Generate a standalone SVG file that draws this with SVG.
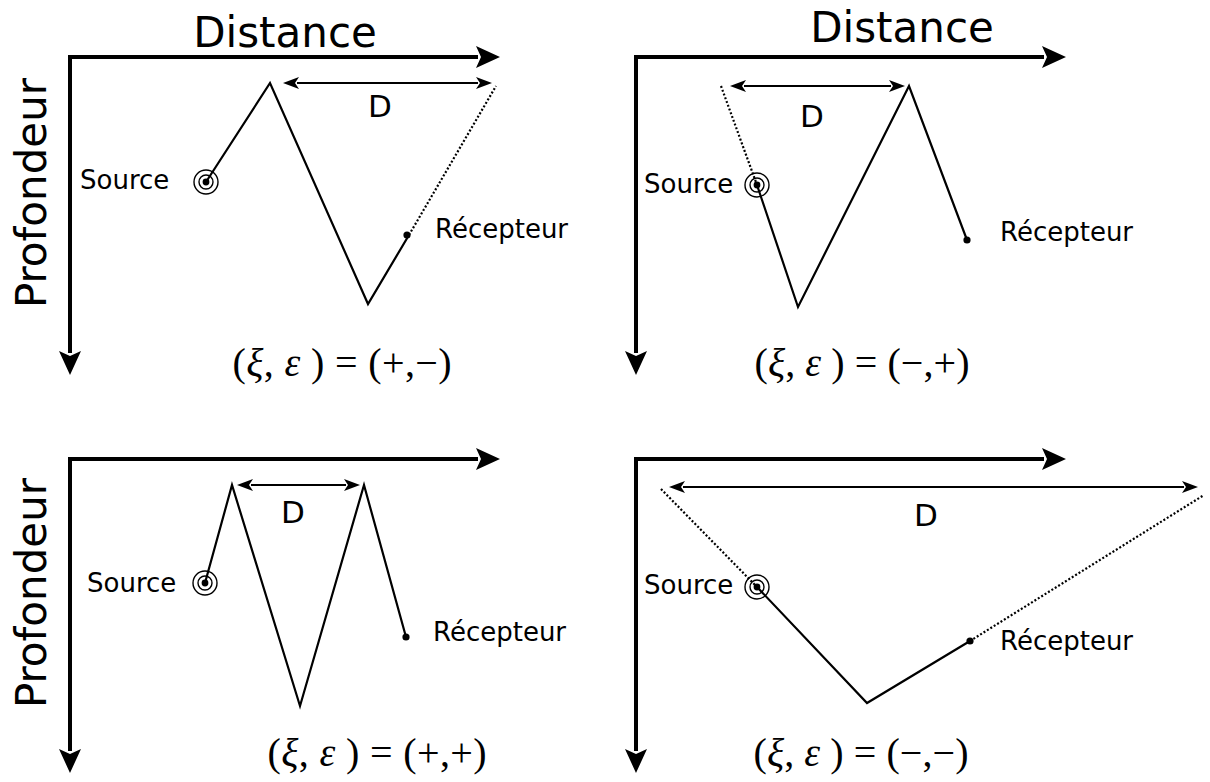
<svg xmlns="http://www.w3.org/2000/svg" width="1210" height="782" viewBox="0 0 1210 782">
<style>
  .axis{fill:none;stroke:#000;stroke-width:4;marker-start:url(#axh);marker-end:url(#axh)}
  .ray{fill:none;stroke:#000;stroke-width:2.2;stroke-linejoin:miter}
  .dot{fill:none;stroke:#000;stroke-width:2.2;stroke-dasharray:2,2}
  .dim{fill:none;stroke:#000;stroke-width:2.2;marker-start:url(#dh);marker-end:url(#dh)}
  .big{font-family:"DejaVu Sans",sans-serif;font-size:42px;fill:#000}
  .lbl{font-family:"DejaVu Sans",sans-serif;font-size:26px;fill:#000}
  .d{font-family:"DejaVu Sans",sans-serif;font-size:31px;fill:#000;text-anchor:middle}
  .eq{font-family:"Liberation Serif",serif;font-size:40px;fill:#000;text-anchor:middle}
  .ring{fill:none;stroke:#000;stroke-width:1.4}
</style>
<defs>
  <marker id="axh" markerUnits="userSpaceOnUse" markerWidth="30" markerHeight="24" refX="2" refY="11" orient="auto-start-reverse" overflow="visible">
    <path d="M0,0 L24,11 L0,22 L5,11 Z" fill="#000"/>
  </marker>
  <marker id="dh" markerUnits="userSpaceOnUse" markerWidth="18" markerHeight="14" refX="2" refY="6" orient="auto-start-reverse" overflow="visible">
    <path d="M0,0 L16,6 L0,12 L4,6 Z" fill="#000"/>
  </marker>
  <g id="src">
    <circle r="12" class="ring"/>
    <circle r="7" class="ring"/>
    <circle r="3.4" fill="#000"/>
  </g>
</defs>
<rect width="1210" height="782" fill="#fff"/>

<!-- Panel top-left -->
<g id="panel-tl">
  <g id="tl-connectors">
    <path class="axis" d="M70,353 L70,57 L478,57"/>
    <path class="dim" d="M297,83 L478,83"/>
    <polyline class="ray" points="206,182 270,83 368,304 409,235"/>
    <line class="dot" x1="409" y1="235" x2="496" y2="86"/>
  </g>
  <g id="tl-source"><use href="#src" x="206" y="182"/><text class="lbl" x="80" y="189">Source</text></g>
  <g id="tl-receiver"><circle cx="407" cy="235" r="3.6"/><text class="lbl" x="435" y="238">Récepteur</text></g>
  <text class="big" x="285" y="47" text-anchor="middle">Distance</text>
  <text class="big" transform="translate(46,193) rotate(-90)" text-anchor="middle">Profondeur</text>
  <text class="d" x="380" y="117">D</text>
  <text class="eq" x="342" y="376" textLength="219" lengthAdjust="spacing">(<tspan font-style="italic">ξ</tspan>, <tspan font-style="italic">ε</tspan> ) = (+,−)</text>
</g>

<!-- Panel top-right -->
<g id="panel-tr">
  <g id="tr-connectors">
    <path class="axis" d="M636,353 L636,57 L1044,57"/>
    <path class="dim" d="M744,86 L891,86"/>
    <line class="dot" x1="721" y1="86" x2="757" y2="185"/>
    <polyline class="ray" points="757,185 798,307 909,86 967,240"/>
  </g>
  <g id="tr-source"><use href="#src" x="757" y="185"/><text class="lbl" x="644" y="193">Source</text></g>
  <g id="tr-receiver"><circle cx="967" cy="240" r="3.6"/><text class="lbl" x="1000" y="241">Récepteur</text></g>
  <text class="big" x="902" y="42" text-anchor="middle">Distance</text>
  <text class="d" x="812" y="127">D</text>
  <text class="eq" x="862" y="376" textLength="215" lengthAdjust="spacing">(<tspan font-style="italic">ξ</tspan>, <tspan font-style="italic">ε</tspan> ) = (−,+)</text>
</g>

<!-- Panel bottom-left -->
<g id="panel-bl">
  <g id="bl-connectors">
    <path class="axis" d="M70,751 L70,459 L478,459"/>
    <path class="dim" d="M251,485 L346,485"/>
    <polyline class="ray" points="205,583 232,485 300,706 364,485 406,637"/>
  </g>
  <g id="bl-source"><use href="#src" x="205" y="583"/><text class="lbl" x="87" y="592">Source</text></g>
  <g id="bl-receiver"><circle cx="406" cy="637" r="3.6"/><text class="lbl" x="433" y="641">Récepteur</text></g>
  <text class="big" transform="translate(46,593) rotate(-90)" text-anchor="middle">Profondeur</text>
  <text class="d" x="293" y="523">D</text>
  <text class="eq" x="377" y="766" textLength="219" lengthAdjust="spacing">(<tspan font-style="italic">ξ</tspan>, <tspan font-style="italic">ε</tspan> ) = (+,+)</text>
</g>

<!-- Panel bottom-right -->
<g id="panel-br">
  <g id="br-connectors">
    <path class="axis" d="M636,751 L636,459 L1044,459"/>
    <path class="dim" d="M683,487 L1184,487"/>
    <line class="dot" x1="661" y1="489" x2="757" y2="587"/>
    <polyline class="ray" points="757,587 867,703 970,641"/>
    <line class="dot" x1="970" y1="641" x2="1204" y2="495"/>
  </g>
  <g id="br-source"><use href="#src" x="757" y="587"/><text class="lbl" x="644" y="594">Source</text></g>
  <g id="br-receiver"><circle cx="970" cy="641" r="3.6"/><text class="lbl" x="1000" y="650">Récepteur</text></g>
  <text class="d" x="926" y="526">D</text>
  <text class="eq" x="861" y="766" textLength="215" lengthAdjust="spacing">(<tspan font-style="italic">ξ</tspan>, <tspan font-style="italic">ε</tspan> ) = (−,−)</text>
</g>
</svg>
